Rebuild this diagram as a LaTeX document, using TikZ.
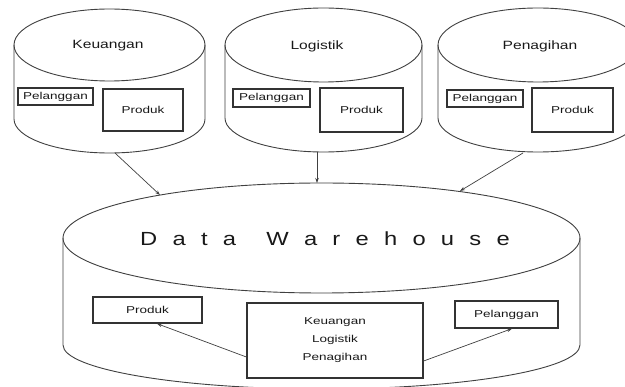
\documentclass[tikz,border=0pt]{standalone}
\usepackage{fontspec}
\setmainfont{Liberation Sans}
\usepackage{graphicx}
\usetikzlibrary{arrows.meta}
\newcommand{\lbl}[2][1.35]{\scalebox{#1}[1]{#2}}
\begin{document}
\begin{tikzpicture}[x=1pt,y=-1pt,
  cylline/.style={draw=black!75, line width=0.9pt},
  box/.style={draw=black!80, line width=1.3pt, inner sep=0pt, font=\fontsize{10}{12}\selectfont, text=black!90},
  title/.style={inner sep=0pt, font=\fontsize{12}{14}\selectfont, text=black!90},
  conn/.style={draw=black!75, line width=0.7pt, -{Stealth[length=5pt,width=3.5pt]}}]
\useasboundingbox (0,0) rectangle (625,387);
\clip (0,0) rectangle (625,387);
\fill[white] (0,0) rectangle (625,387);

% cylinder Keuangan
\draw[cylline] (109.5,45) ellipse [x radius=95.5, y radius=36];
\draw[cylline] (14,45) -- (14,119) arc[start angle=180, end angle=0, x radius=95.5, y radius=34] -- (205,45);
% cylinder Logistik
\draw[cylline] (323.5,45) ellipse [x radius=98.5, y radius=37];
\draw[cylline] (225,45) -- (225,118) arc[start angle=180, end angle=0, x radius=98.5, y radius=34] -- (422,45);
% cylinder Penagihan
\draw[cylline] (538,45) ellipse [x radius=100, y radius=37];
\draw[cylline] (438,45) -- (438,118) arc[start angle=180, end angle=0, x radius=100, y radius=34] -- (638,45);
% Data warehouse cylinder
\draw[cylline] (321.5,238) ellipse [x radius=258.5, y radius=55];
\draw[cylline] (63,238) -- (63,345) arc[start angle=180, end angle=0, x radius=258.5, y radius=44] -- (580,238);

% titles
\node[title] (k-title) at (108,46) {\lbl[1.3]{Keuangan}};
\node[title] (l-title) at (317,46) {\lbl[1.3]{Logistik}};
\node[title] (p-title) at (540,46) {\lbl[1.3]{Penagihan}};
\node[inner sep=0pt, font=\fontsize{19}{22}\selectfont, text=black!90] (dw-title) at (325,238.5)
  {\lbl[1.25]{\spaceskip=12.2pt\relax D a t a \hspace{12pt}W a r e h o u s e}};

% boxes in source cylinders
\node[box, minimum width=75pt, minimum height=17pt] (k-pel) at (55.5,96.5) {\lbl{Pelanggan}};
\node[box, minimum width=80pt, minimum height=42pt] (k-prod) at (143,110) {\lbl{Produk}};
\node[box, minimum width=77pt, minimum height=18pt] (l-pel) at (271.5,98) {\lbl{Pelanggan}};
\node[box, minimum width=83pt, minimum height=44pt] (l-prod) at (361.5,110) {\lbl{Produk}};
\node[box, minimum width=76pt, minimum height=17pt] (p-pel) at (485,98.5) {\lbl{Pelanggan}};
\node[box, minimum width=81pt, minimum height=44pt] (p-prod) at (572.5,110) {\lbl{Produk}};

% boxes in data warehouse
\node[box, minimum width=109pt, minimum height=26pt] (dw-prod) at (147.5,310) {\lbl{Produk}};
\node[box, minimum width=176pt, minimum height=75pt, align=center, font=\fontsize{10}{18}\selectfont] (dw-mid) at (335,340.5)
  {\lbl{Keuangan}\\\lbl{Logistik}\\\lbl{Penagihan}};
\node[box, minimum width=103pt, minimum height=27pt] (dw-pel) at (506.5,314.5) {\lbl{Pelanggan}};

% connector end points on the cylinder outlines
\coordinate (k-out) at (115,153);
\coordinate (k-in) at (160,195);
\coordinate (l-out) at (317,152);
\coordinate (l-in) at (317,183);
\coordinate (p-out) at (523,153);
\coordinate (p-in) at (460,191);

\draw[conn] (k-out) -- (k-in);
\draw[conn] (l-out) -- (l-in);
\draw[conn] (p-out) -- (p-in);
\draw[conn] ([yshift=-16.5pt]dw-mid.west) -- ([xshift=9.5pt]dw-prod.south);
\draw[conn] ([yshift=-20.5pt]dw-mid.east) -- ([xshift=5.5pt]dw-pel.south);
\end{tikzpicture}
\end{document}
